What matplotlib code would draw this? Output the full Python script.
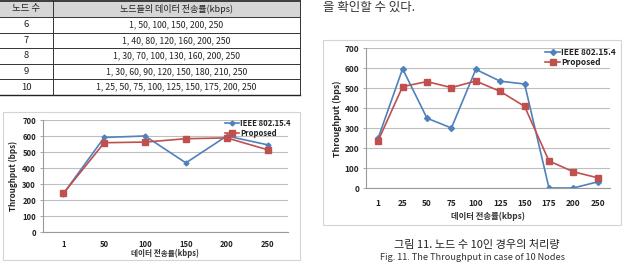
import numpy as np
import matplotlib
matplotlib.use('Agg')
import matplotlib.pyplot as plt
from matplotlib.patches import Rectangle

plt.rcParams['font.family'] = ['Noto Sans CJK KR', 'DejaVu Sans']

# table data
table_header = ['노드 수', '노드들의 데이터 전송률(kbps)']
node_counts = ['6', '7', '8', '9', '10']
node_rates = ['1, 50, 100, 150, 200, 250',
              '1, 40, 80, 120, 160, 200, 250',
              '1, 30, 70, 100, 130, 160, 200, 250',
              '1, 30, 60, 90, 120, 150, 180, 210, 250',
              '1, 25, 50, 75, 100, 125, 150, 175, 200, 250']

# chart data (6 nodes, left)
rates_6 = ['1', '50', '100', '150', '200', '250']
ieee_6 = [240, 591, 600, 432, 600, 545]
prop_6 = [241, 558, 562, 583, 588, 514]

# chart data (10 nodes, right)
rates_10 = ['1', '25', '50', '75', '100', '125', '150', '175', '200', '250']
ieee_10 = [250, 596, 349, 300, 593, 534, 520, 0, 0, 31]
prop_10 = [237, 507, 532, 502, 535, 483, 408, 135, 81, 51]

W, H = 626, 267
BLUE = '#4F81BD'
RED = '#C0504D'


def box(x0, y0, x1, y1):
    return [x0 / W, 1 - y1 / H, (x1 - x0) / W, (y1 - y0) / H]


fig = plt.figure(figsize=(W / 100, H / 100), dpi=100)

# background layer in pixel coordinates
bg = fig.add_axes([0, 0, 1, 1])
bg.set_xlim(0, W)
bg.set_ylim(H, 0)
bg.axis('off')

# --- table ---
tx0, tx1, colx = 0, 300, 53
head_h, row_h = 17, 15.6
bg.add_patch(Rectangle((tx0, 0), tx1 - tx0, head_h, facecolor='#d6d6d6', edgecolor='none'))
bg.plot([tx0, tx1], [0.5, 0.5], color='#222222', lw=1.2)
bg.text((tx0 + colx) / 2, head_h / 2, table_header[0], ha='center', va='center', fontsize=6.8, color='#222222')
bg.text((colx + tx1) / 2, head_h / 2, table_header[1], ha='center', va='center', fontsize=6.5, color='#222222')
for i, (n, r) in enumerate(zip(node_counts, node_rates)):
    top = head_h + i * row_h
    bg.plot([tx0, tx1], [top, top], color='#333333', lw=0.7)
    yc = top + row_h / 2
    bg.text((tx0 + colx) / 2, yc, n, ha='center', va='center', fontsize=6.8, color='#222222')
    bg.text((colx + tx1) / 2, yc, r, ha='center', va='center', fontsize=6.3, color='#222222')
tbot = head_h + len(node_counts) * row_h
bg.plot([tx0, tx1], [tbot, tbot], color='#222222', lw=1.0)
bg.plot([colx, colx], [0, tbot], color='#333333', lw=0.7)
bg.plot([tx1, tx1], [0, tbot], color='#333333', lw=0.7)

# top-right body text
bg.text(323, 7, '을 확인할 수 있다.', ha='left', va='center', fontsize=9, color='#333333')

# chart frames
bg.add_patch(Rectangle((3, 112), 297, 148, facecolor='white', edgecolor='#d4d4d4', lw=0.8))
bg.add_patch(Rectangle((323, 40), 298, 185, facecolor='white', edgecolor='#d4d4d4', lw=0.8))

# axis titles
bg.text(13, 176, 'Throughput (bps)', rotation=90, ha='center', va='center', fontsize=5.8, fontweight='bold', color='#222222')
bg.text(165, 253, '데이터 전송률(kbps)', ha='center', va='center', fontsize=5.5, fontweight='bold', color='#333333')
bg.text(337, 119, 'Throughput (bps)', rotation=90, ha='center', va='center', fontsize=6.3, fontweight='bold', color='#222222')
bg.text(488, 216, '데이터 전송률(kbps)', ha='center', va='center', fontsize=6, fontweight='bold', color='#333333')

# captions
bg.text(477, 245, '그림 11. 노드 수 10인 경우의 처리량', ha='center', va='center', fontsize=8, color='#222222')
bg.text(472, 258, 'Fig. 11. The Throughput in case of 10 Nodes', ha='center', va='center', fontsize=6.6, color='#333333')


def draw_chart(rect, cats, ieee, prop, fs, xpad, leg_xy, ms):
    ax = fig.add_axes(box(*rect))
    x = np.arange(len(cats))
    ax.plot(x, ieee, color=BLUE, lw=1.2, marker='D', ms=ms, label='IEEE 802.15.4')
    ax.plot(x, prop, color=RED, lw=1.2, marker='s', ms=ms + 1.2, label='Proposed')
    ax.set_xlim(-0.5, len(cats) - 0.5)
    ax.set_ylim(0, 700)
    ax.set_yticks(range(0, 701, 100))
    ax.set_xticks(x)
    ax.set_xticklabels(cats)
    ax.yaxis.grid(True, color='#bfbfbf', lw=0.8)
    ax.set_axisbelow(True)
    for s in ['top', 'right']:
        ax.spines[s].set_visible(False)
    for s in ['left', 'bottom']:
        ax.spines[s].set_color('#9a9a9a')
        ax.spines[s].set_linewidth(0.8)
    ax.tick_params(axis='x', length=0, pad=xpad, labelsize=fs)
    ax.tick_params(axis='y', length=2, width=0.6, color='#9a9a9a', pad=3, labelsize=fs)
    for lab in ax.get_xticklabels() + ax.get_yticklabels():
        lab.set_fontweight('bold')
        lab.set_color('#222222')
    leg = ax.legend(loc='upper left', bbox_to_anchor=(leg_xy[0] / W, 1 - leg_xy[1] / H),
                    bbox_transform=fig.transFigure, frameon=False,
                    handlelength=1.8, handletextpad=0.15, labelspacing=0.15,
                    borderpad=0, borderaxespad=0, prop={'weight': 'bold', 'size': fs})
    for t in leg.get_texts():
        t.set_color('#222222')
    return ax


draw_chart((43, 120, 288, 232), rates_6, ieee_6, prop_6, 5.5, 6, (225, 119), 2.5)
draw_chart((366, 48, 610, 188), rates_10, ieee_10, prop_10, 6, 8, (545, 48), 3)

fig.savefig('out.png', dpi=100)
